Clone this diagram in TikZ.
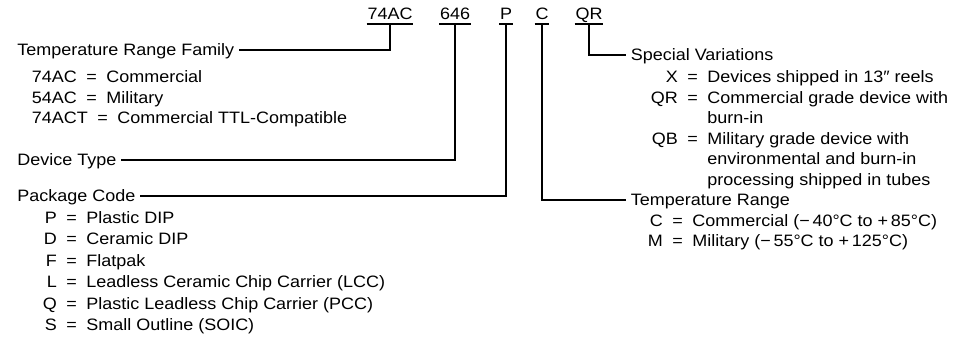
\documentclass[tikz,border=0pt]{standalone}
\usepackage{fontspec}
\setmainfont{Liberation Sans}[FakeStretch=1.09]
\usepackage{tikz}
\usetikzlibrary{positioning}

\newcommand{\eqsign}{\hspace{9.5pt}=\hspace{9.5pt}}
\newcommand{\codebox}[2]{\makebox[#1][r]{#2}}

\begin{document}
\begin{tikzpicture}[x=1pt,y=-1pt,line width=1.7pt,font=\fontsize{16.5pt}{20.5pt}\selectfont]
\tikzstyle{code}=[inner xsep=0pt,inner ysep=4pt,text depth=0pt,anchor=base]
\tikzstyle{head}=[inner xsep=4pt,inner ysep=0pt,text height=11.5pt,text depth=0pt,anchor=base west]
\tikzstyle{item}=[inner sep=0pt,anchor=base west]
\useasboundingbox (0,0) rectangle (958,344);
% part number
\node[code] (c74) at (390,19.5) {74AC};
\node[code] (c646) at (455,19.5) {646};
\node[code] (cP) at (506,19.5) {P};
\node[code] (cC) at (542,19.5) {C};
\node[code] (cQR) at (589,19.5) {QR};
\foreach \n in {c74,c646,cP,cC,cQR}
  \draw (\n.south west) -- (\n.south east);
% left side
\node[head] (fam) at (12.5,56) {Temperature Range Family};
\foreach \c/\t [count=\i] in {74AC/Commercial,54AC/Military,74ACT/Commercial TTL-Compatible}
  \node[item] (fam\i) at (31,62.5+20.5*\i) {\c\eqsign\t};
\node[head] (dev) at (12.5,166) {Device Type};
\node[head] (pkg) at (12.5,202) {Package Code};
\foreach \c/\t [count=\i] in {P/Plastic DIP,D/Ceramic DIP,F/Flatpak,L/Leadless Ceramic Chip Carrier (LCC),Q/Plastic Leadless Chip Carrier (PCC),S/Small Outline (SOIC)}
  \node[item] (pkg\i) at (36,202+21.5*\i) {\codebox{20pt}{\c}\eqsign\t};
% right side
\node[head] (sv) at (626,61) {Special Variations};
\node[item] (sv1) at (647,83) {\codebox{30pt}{X}\eqsign Devices shipped in 13″ reels};
\node[item] (sv2) at (647,103.5) {\codebox{30pt}{QR}\eqsign\begin{tabular}[t]{@{}l@{}}Commercial grade device with\\burn-in\end{tabular}};
\node[item] (sv3) at (647,144.5) {\codebox{30pt}{QB}\eqsign\begin{tabular}[t]{@{}l@{}}Military grade device with\\environmental and burn-in\\processing shipped in tubes\end{tabular}};
\node[head] (tr) at (626,206) {Temperature Range};
\node[item] (tr1) at (647,226.5) {\codebox{15pt}{C}\eqsign Commercial (−\,40°C to +\,85°C)};
\node[item] (tr2) at (647,247) {\codebox{15pt}{M}\eqsign Military (−\,55°C to +\,125°C)};
% connectors
\draw (c74.south) |- (fam.east);
\draw (c646.south) |- (dev.east);
\draw (cP.south) |- (pkg.east);
\draw (cC.south) |- (tr.west);
\draw (cQR.south) |- (sv.west);
\end{tikzpicture}
\end{document}
